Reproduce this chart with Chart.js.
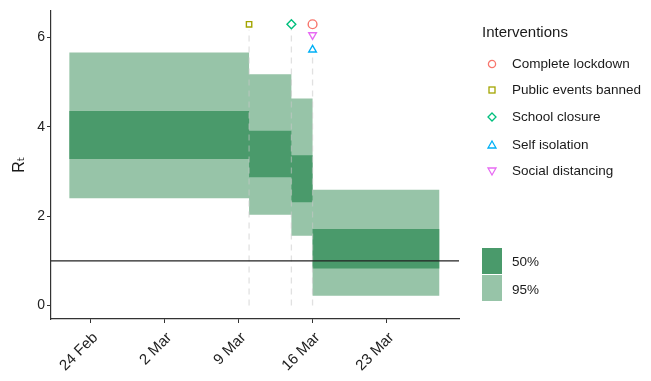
<!DOCTYPE html>
<html>
<head>
<meta charset="utf-8">
<script src="https://cdn.jsdelivr.net/npm/chart.js@4/dist/chart.umd.min.js"></script>
<style>
  body { margin: 0; background: #fff; font-family: "Liberation Sans", Arial, sans-serif; }
  #wrap { position: relative; width: 651px; height: 381px; }
  #legend { position: absolute; left: 482px; top: 0; color: #1a1a1a; font-size: 13.5px; }
  .ttl { position: absolute; left: 0; top: 23px; font-size: 15px; white-space: nowrap; }
  .item { position: absolute; left: 0; height: 16px; line-height: 16px; white-space: nowrap; }
  .item svg { position: absolute; left: 4px; top: 2px; }
  .item span { position: absolute; left: 30px; top: 0; }
  .box { position: absolute; left: 0; width: 20px; height: 26px; }
</style>
</head>
<body>
<div id="wrap">
  <canvas id="rt-chart" width="651" height="381"></canvas>
  <div id="legend"></div>
</div>
<script>
// days counted as day-of-year 2020 (24 Feb = 55)
const tickDays = [55, 62, 69, 76, 83];
const tickLabels = ['24 Feb', '2 Mar', '9 Mar', '16 Mar', '23 Mar'];

// step boundaries of the Rt estimate (22 Feb, 10 Mar, 14 Mar, 16 Mar, 28 Mar)
const stepDays = [53, 70, 74, 76, 88];
const upper95 = [5.66, 5.17, 4.63, 2.59];
const lower95 = [2.40, 2.03, 1.56, 0.22];
const upper50 = [4.35, 3.91, 3.36, 1.71];
const lower50 = [3.28, 2.87, 2.31, 0.83];

// interventions
const interventionNames = ['Complete lockdown', 'Public events banned', 'School closure', 'Self isolation', 'Social distancing'];
const interventionDays = [76, 70, 74, 76, 76];
const interventionY = [6.29, 6.29, 6.29, 5.72, 6.05];
const interventionColors = ['#F8766D', '#A3A500', '#00BF7D', '#00B0F6', '#E76BF3'];
const interventionShapes = ['circle', 'rect', 'rectRot', 'triangle', 'triangle'];
const interventionRot = [0, 0, 0, 0, 180];

const xMin = 51.28, xMax = 89.84;
const col95 = '#97c4a8';
const col50 = '#4a9a6b';

function stepped(vals) {
  const pts = vals.map((v, i) => ({ x: stepDays[i], y: v }));
  pts.push({ x: stepDays[stepDays.length - 1], y: vals[vals.length - 1] });
  return pts;
}

function bandLine(label, vals, color, fill, order) {
  return {
    type: 'line', label: label, data: stepped(vals), stepped: 'before',
    borderWidth: 0, borderColor: 'rgba(0,0,0,0)', backgroundColor: color,
    pointRadius: 0, fill: fill, order: order
  };
}

const datasets = [];
// 50% band on top of 95% band
datasets.push(bandLine('50% upper', upper50, col50, '+1', 2));
datasets.push(bandLine('50% lower', lower50, col50, false, 2));
datasets.push(bandLine('95% upper', upper95, col95, '+1', 3));
datasets.push(bandLine('95% lower', lower95, col95, false, 3));

// dashed intervention lines (light, on top of the bands)
const lineDays = [...new Set(interventionDays)];
lineDays.forEach(d => {
  const top = Math.min(...interventionY.filter((y, i) => interventionDays[i] === d));
  datasets.push({
    type: 'line', label: 'vline', data: [{ x: d, y: 0 }, { x: d, y: top - 0.12 }],
    borderColor: 'rgba(200,200,200,0.55)', borderWidth: 1.3, borderDash: [6, 5],
    pointRadius: 0, fill: false, order: 1.5
  });
});

// R = 1 reference line
datasets.push({
  type: 'line', label: 'R1', data: [{ x: xMin, y: 1 }, { x: xMax, y: 1 }],
  borderColor: '#222', borderWidth: 1.3, pointRadius: 0, fill: false, order: 1
});

// intervention markers
interventionNames.forEach((name, i) => {
  datasets.push({
    type: 'scatter', label: name, data: [{ x: interventionDays[i], y: interventionY[i] }],
    pointStyle: interventionShapes[i], rotation: interventionRot[i],
    pointRadius: interventionShapes[i] === 'rect' ? 3.8 : 4.4,
    borderColor: interventionColors[i], backgroundColor: 'rgba(255,255,255,0)',
    borderWidth: 1.4, order: 0
  });
});

const xFont = { family: '"Liberation Sans", Arial, sans-serif', size: 15 };
const yFont = { family: '"Liberation Sans", Arial, sans-serif', size: 14 };

new Chart(document.getElementById('rt-chart'), {
  data: { datasets: datasets },
  options: {
    responsive: false,
    animation: false,
    layout: { padding: { left: 0, right: 192, top: 7, bottom: 0 } },
    plugins: { legend: { display: false }, tooltip: { enabled: false } },
    scales: {
      x: {
        type: 'linear', min: xMin, max: xMax,
        afterBuildTicks: axis => { axis.ticks = tickDays.map(v => ({ value: v })); },
        afterFit: axis => { axis.height = 62; },
        ticks: {
          minRotation: 45, maxRotation: 45, padding: 6, labelOffset: 5, color: '#222', font: xFont,
          callback: v => tickLabels[tickDays.indexOf(v)]
        },
        grid: { drawOnChartArea: false, tickLength: 4, color: '#333', tickWidth: 1 },
        border: { display: true, color: '#333', width: 1.2 }
      },
      y: {
        type: 'linear', min: -0.3, max: 6.6,
        afterBuildTicks: axis => { axis.ticks = [0, 2, 4, 6].map(v => ({ value: v })); },
        afterFit: axis => { axis.width = 51; },
        ticks: { padding: 2, color: '#222', font: yFont },
        grid: { drawOnChartArea: false, tickLength: 4, color: '#333', tickWidth: 1 },
        border: { display: true, color: '#333', width: 1.2 },
        title: {
          display: true, text: 'Rₜ', color: '#1a1a1a',
          font: { family: '"Liberation Sans", "DejaVu Sans", sans-serif', size: 16 },
          padding: { top: 10, bottom: 0 }
        }
      }
    }
  }
});

// legend (HTML)
const legend = document.getElementById('legend');
let html = '<div class="ttl">Interventions</div>';
const itemTops = [56, 82, 109, 137, 163];
function markerSvg(i) {
  const c = interventionColors[i];
  const s = 'fill="none" stroke="' + c + '" stroke-width="1.3"';
  switch (interventionShapes[i]) {
    case 'circle': return '<circle cx="6" cy="6" r="3.6" ' + s + '/>';
    case 'rect': return '<rect x="3" y="3" width="6" height="6" ' + s + '/>';
    case 'rectRot': return '<polygon points="6,2 10,6 6,10 2,6" ' + s + '/>';
    default:
      return interventionRot[i] ? '<polygon points="2,3 10,3 6,10" ' + s + '/>'
                                : '<polygon points="6,2 10,9 2,9" ' + s + '/>';
  }
}
interventionNames.forEach((name, i) => {
  html += '<div class="item" style="top:' + itemTops[i] + 'px"><svg width="12" height="12">' +
    markerSvg(i) + '</svg><span>' + name + '</span></div>';
});
html += '<div class="box" style="top:248px;background:' + col50 + '"></div>';
html += '<div class="box" style="top:275px;background:' + col95 + '"></div>';
html += '<div class="item" style="top:254px"><span>50%</span></div>';
html += '<div class="item" style="top:282px"><span>95%</span></div>';
legend.innerHTML = html;
</script>
</body>
</html>
